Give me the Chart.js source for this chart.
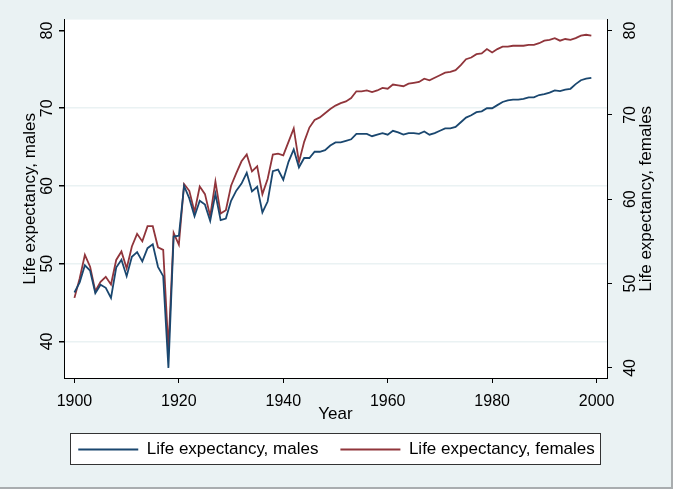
<!DOCTYPE html>
<html>
<head>
<meta charset="utf-8">
<script src="https://cdn.jsdelivr.net/npm/chart.js@4/dist/chart.umd.min.js"></script>
<style>
  html, body { margin: 0; padding: 0; background: #eaf2f3; }
  #wrap { width: 673px; height: 489px; position: relative; }
</style>
</head>
<body>
<div id="wrap"><canvas id="lifeChart" width="673" height="489"></canvas></div>
<script>
const years = [
  1900, 1901, 1902, 1903, 1904, 1905, 1906, 1907, 1908, 1909,
  1910, 1911, 1912, 1913, 1914, 1915, 1916, 1917, 1918, 1919,
  1920, 1921, 1922, 1923, 1924, 1925, 1926, 1927, 1928, 1929,
  1930, 1931, 1932, 1933, 1934, 1935, 1936, 1937, 1938, 1939,
  1940, 1941, 1942, 1943, 1944, 1945, 1946, 1947, 1948, 1949,
  1950, 1951, 1952, 1953, 1954, 1955, 1956, 1957, 1958, 1959,
  1960, 1961, 1962, 1963, 1964, 1965, 1966, 1967, 1968, 1969,
  1970, 1971, 1972, 1973, 1974, 1975, 1976, 1977, 1978, 1979,
  1980, 1981, 1982, 1983, 1984, 1985, 1986, 1987, 1988, 1989,
  1990, 1991, 1992, 1993, 1994, 1995, 1996, 1997, 1998, 1999
];

const leMale = [
  46.3, 47.6, 49.8, 49.1, 46.2, 47.3, 46.9, 45.6, 49.5, 50.5,
  48.4, 50.9, 51.5, 50.3, 52.0, 52.5, 49.6, 48.4, 36.6, 53.5,
  53.6, 60.0, 58.4, 56.1, 58.1, 57.6, 55.5, 59.0, 55.6, 55.8,
  58.1, 59.4, 60.3, 61.7, 59.3, 59.9, 56.6, 58.0, 61.9, 62.1,
  60.8, 63.1, 64.7, 62.4, 63.6, 63.6, 64.4, 64.4, 64.6, 65.2,
  65.6, 65.6, 65.8, 66.0, 66.7, 66.7, 66.7, 66.4, 66.6, 66.8,
  66.6, 67.1, 66.9, 66.6, 66.8, 66.8, 66.7, 67.0, 66.6, 66.8,
  67.1, 67.4, 67.4, 67.6, 68.2, 68.8, 69.1, 69.5, 69.6, 70.0,
  70.0, 70.4, 70.8, 71.0, 71.1, 71.1, 71.2, 71.4, 71.4, 71.7,
  71.8, 72.0, 72.3, 72.2, 72.4, 72.5, 73.1, 73.6, 73.8, 73.9
];

const leFemale = [
  48.3, 50.6, 53.4, 52.0, 49.1, 50.2, 50.8, 49.9, 52.8, 53.8,
  51.8, 54.4, 55.9, 55.0, 56.8, 56.8, 54.3, 54.0, 42.2, 56.0,
  54.6, 61.8, 61.0, 58.5, 61.5, 60.6, 58.0, 62.1, 58.3, 58.7,
  61.6, 63.1, 64.5, 65.3, 63.3, 63.9, 60.6, 62.4, 65.3, 65.4,
  65.2, 66.8, 68.4, 64.4, 66.8, 68.5, 69.4, 69.7, 70.2, 70.7,
  71.1, 71.4, 71.6, 72.0, 72.8, 72.8, 72.9, 72.7, 72.9, 73.2,
  73.1, 73.6, 73.5, 73.4, 73.7, 73.8, 73.9, 74.3, 74.1, 74.4,
  74.7, 75.0, 75.1, 75.3, 75.9, 76.6, 76.8, 77.2, 77.3, 77.8,
  77.4, 77.8, 78.1, 78.1, 78.2, 78.2, 78.2, 78.3, 78.3, 78.5,
  78.8, 78.9, 79.1, 78.8, 79.0, 78.9, 79.1, 79.4, 79.5, 79.4
];

const xTicks = [1900, 1920, 1940, 1960, 1980, 2000];
const yTicksMale = [40, 50, 60, 70, 80];
const yTicksFemale = [40, 50, 60, 70, 80];

const FONT = "'Liberation Sans', Arial, sans-serif";
const bgColor = "#eaf2f3";

const toPoints = (xs, ys) => xs.map((x, i) => ({ x: x, y: ys[i] }));
const fixTicks = list => scale => { scale.ticks = list.map(v => ({ value: v })); };

// background, white plot region, legend frame, right axis title
const stataFrame = {
  id: "stataFrame",
  beforeDraw(chart) {
    const { ctx, chartArea: a } = chart;
    ctx.save();
    ctx.fillStyle = bgColor;
    ctx.fillRect(0, 0, chart.width, chart.height);
    ctx.fillStyle = "#fff";
    ctx.fillRect(a.left, a.top, a.right - a.left, a.bottom - a.top);

    const boxes = chart.legend.legendHitBoxes;
    if (boxes && boxes.length) {
      const first = boxes[0], last = boxes[boxes.length - 1];
      const l = Math.round(first.left - 8) + 0.5;
      const r = Math.round(last.left + last.width + 5) + 0.5;
      const cy = first.top + first.height / 2;
      const t = Math.round(cy - 17) + 0.5;
      const b = Math.round(cy + 14) + 0.5;
      ctx.fillStyle = "#fff";
      ctx.fillRect(l, t, r - l, b - t);
      ctx.strokeStyle = "#333";
      ctx.lineWidth = 1;
      ctx.strokeRect(l, t, r - l, b - t);
    }

    // thin gray border on the right and bottom edges
    ctx.fillStyle = "#a9adaf";
    ctx.fillRect(chart.width - 2, 0, 2, chart.height);
    ctx.fillRect(0, chart.height - 2, chart.width, 2);
    ctx.restore();
  },
  afterDraw(chart) {
    const { ctx, chartArea: a } = chart;
    const s = chart.scales.y1;
    ctx.save();
    ctx.translate(s.right - 27, (a.top + a.bottom) / 2);
    ctx.rotate(-Math.PI / 2);
    ctx.font = "17px " + FONT;
    ctx.fillStyle = "#000";
    ctx.textAlign = "center";
    ctx.textBaseline = "middle";
    ctx.fillText("Life expectancy, females", 0, 0);
    ctx.restore();
  }
};

new Chart(document.getElementById("lifeChart"), {
  type: "line",
  data: {
    datasets: [
      {
        label: "Life expectancy, males",
        data: toPoints(years, leMale),
        yAxisID: "y",
        borderColor: "#1a476f",
        backgroundColor: "#1a476f",
        borderWidth: 1.8,
        pointRadius: 0,
        tension: 0
      },
      {
        label: "Life expectancy, females",
        data: toPoints(years, leFemale),
        yAxisID: "y1",
        borderColor: "#90353b",
        backgroundColor: "#90353b",
        borderWidth: 1.8,
        pointRadius: 0,
        tension: 0
      }
    ]
  },
  options: {
    responsive: false,
    animation: false,
    layout: { padding: { top: 17, left: 0, right: 0, bottom: 21 } },
    plugins: {
      tooltip: { enabled: false },
      legend: {
        position: "bottom",
        labels: {
          usePointStyle: true,
          pointStyle: "line",
          pointStyleWidth: 60,
          padding: 22,
          color: "#000",
          font: { family: FONT, size: 17 }
        }
      }
    },
    scales: {
      x: {
        type: "linear",
        min: 1898,
        max: 2002,
        afterBuildTicks: fixTicks(xTicks),
        afterFit: s => { s.height = 41; },
        border: { color: "#000", width: 1 },
        grid: { drawOnChartArea: false, tickLength: 5, tickColor: "#000" },
        ticks: {
          color: "#000",
          padding: 9,
          maxRotation: 0,
          font: { family: FONT, size: 16 },
          callback: v => String(v)
        },
        title: {
          display: true,
          text: "Year",
          color: "#000",
          font: { family: FONT, size: 17 },
          padding: { top: 0, bottom: -6 }
        }
      },
      y: {
        position: "left",
        min: 35.3,
        max: 81.4,
        afterBuildTicks: fixTicks(yTicksMale),
        afterFit: s => { s.width = 64; },
        border: { color: "#000", width: 1 },
        grid: {
          color: c => (c.tick && c.tick.value === 80 ? "rgba(0,0,0,0)" : bgColor),
          lineWidth: 1.5,
          tickLength: 5,
          tickColor: "#000"
        },
        ticks: {
          color: "#000",
          minRotation: 90,
          maxRotation: 90,
          crossAlign: "center",
          padding: 3,
          font: { family: FONT, size: 16 }
        },
        title: {
          display: true,
          text: "Life expectancy, males",
          color: "#000",
          font: { family: FONT, size: 17 },
          padding: { top: 20, bottom: 0 }
        }
      },
      y1: {
        position: "right",
        min: 38.8,
        max: 81.3,
        afterBuildTicks: fixTicks(yTicksFemale),
        afterFit: s => { s.width = 66; },
        border: { color: "#000", width: 1 },
        grid: { drawOnChartArea: false, tickLength: 5, tickColor: "#000" },
        ticks: {
          color: "#000",
          minRotation: 90,
          maxRotation: 90,
          crossAlign: "center",
          padding: 10,
          font: { family: FONT, size: 16 }
        }
      }
    }
  },
  plugins: [stataFrame]
});
</script>
</body>
</html>
